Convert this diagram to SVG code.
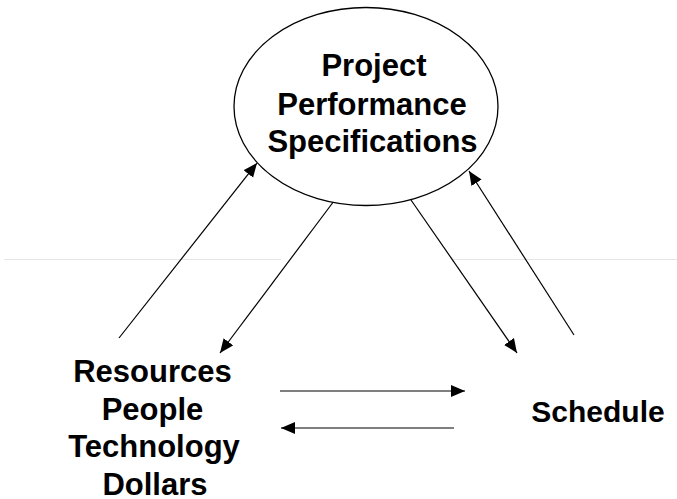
<svg xmlns="http://www.w3.org/2000/svg" width="677" height="499" viewBox="0 0 677 499">
<style>
.t{font-family:"Liberation Sans",Arial,sans-serif;font-weight:bold;font-size:31px;fill:#000;text-anchor:middle}
.c{stroke:#000;stroke-width:1.2;fill:none}
</style>
<defs>
<marker id="ah" markerUnits="userSpaceOnUse" markerWidth="15" markerHeight="13" refX="14" refY="6" orient="auto">
<path d="M0,0 L14,6 L0,12 z" fill="#000"/>
</marker>
</defs>
<rect width="677" height="499" fill="#fff"/>
<g id="guide">
<line x1="4" y1="259.5" x2="281" y2="259.5" stroke="#e6e6e6" stroke-width="1"/>
<line x1="452" y1="259.5" x2="677" y2="259.5" stroke="#e6e6e6" stroke-width="1"/>
</g>
<g id="connectors">
<line class="c" x1="119" y1="338" x2="257" y2="163" marker-end="url(#ah)"/>
<line class="c" x1="334" y1="201" x2="220" y2="353" marker-end="url(#ah)"/>
<line class="c" x1="411" y1="200" x2="517" y2="353" marker-end="url(#ah)"/>
<line class="c" x1="574" y1="335" x2="469" y2="171" marker-end="url(#ah)"/>
<line class="c" x1="280" y1="391" x2="465" y2="391" marker-end="url(#ah)"/>
<line class="c" x1="454" y1="428" x2="281" y2="428" marker-end="url(#ah)"/>
</g>
<g id="project">
<ellipse cx="366" cy="106.5" rx="132" ry="99" fill="#fff" stroke="#000" stroke-width="1.3"/>
<text class="t" x="374" y="76">Project</text>
<text class="t" x="372" y="115">Performance</text>
<text class="t" x="372.5" y="152">Specifications</text>
</g>
<g id="resources">
<text class="t" x="152.5" y="382">Resources</text>
<text class="t" x="152.5" y="420">People</text>
<text class="t" x="154" y="457">Technology</text>
<text class="t" x="155" y="495">Dollars</text>
</g>
<g id="schedule">
<text class="t" x="598" y="422" style="font-size:30px">Schedule</text>
</g>
</svg>
